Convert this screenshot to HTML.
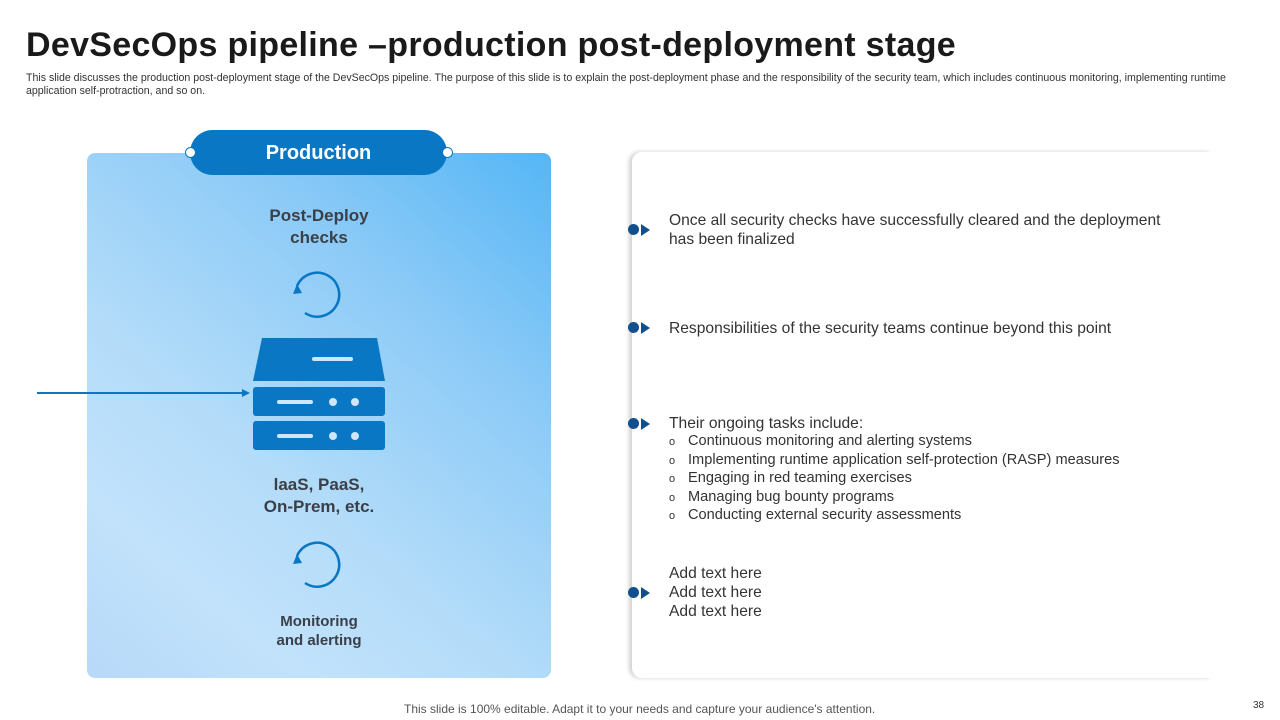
<!DOCTYPE html>
<html><head><meta charset="utf-8"><style>
body{margin:0;width:1280px;height:720px;background:#fff;position:relative;overflow:hidden;font-family:"Liberation Sans",sans-serif;}
.a{position:absolute}
h1{position:absolute;left:26px;top:26px;margin:0;font-size:34px;font-weight:bold;color:#1a1a1a;letter-spacing:0.3px}
.sub{left:26px;top:72px;font-size:10.6px;color:#333;line-height:12.5px;white-space:nowrap}
.panel{left:87px;top:153px;width:464px;height:525px;border-radius:8px;background:linear-gradient(220deg,#55b6f5 0%,#8dcbf7 30%,#b3dcf9 60%,#c2e2fb 80%,#b7d9f8 100%)}
.pill{left:190px;top:130px;width:257px;height:45px;border-radius:23px;background:#0a77c4;color:#fff;font-weight:bold;font-size:20px;text-align:center;line-height:46px}
.dot{width:9px;height:9px;border-radius:50%;background:#fff;border:1px solid #0a77c4}
.lbl{color:#3a3f48;font-weight:bold;text-align:center;width:200px;left:219px}
.card{left:632px;top:152px;width:580px;height:526px;border-radius:10px 0 0 10px;box-shadow:-3px 0 4px rgba(0,0,0,0.18);background:#fff}
.t{left:669px;font-size:15.6px;color:#333;line-height:19px}
.b{left:628px;width:11px;height:11px;border-radius:50%;background:#124f8c}
.tri{width:0;height:0;border-left:9px solid #124f8c;border-top:6px solid transparent;border-bottom:6px solid transparent}
ul{margin:0;padding:0;list-style:none}
li{font-size:14.6px;line-height:17.6px}
li:before{content:"o";display:inline-block;width:19px;font-size:11px}
</style></head><body>
<h1>DevSecOps pipeline –production post-deployment stage</h1>
<div class="a sub">This slide discusses the production post-deployment stage of the DevSecOps pipeline. The purpose of this slide is to explain the post-deployment phase and the responsibility of the security team, which includes continuous monitoring, implementing runtime<br>application self-protraction, and so on.</div>
<div class="a panel"></div>
<div class="a pill">Production</div>
<div class="a dot" style="left:185px;top:147px"></div>
<div class="a dot" style="left:442px;top:147px"></div>
<div class="a lbl" style="top:205px;font-size:17px;line-height:22px">Post-Deploy<br>checks</div>
<div class="a lbl" style="top:474px;font-size:17px;line-height:22px">laaS, PaaS,<br>On-Prem, etc.</div>
<div class="a lbl" style="top:612px;font-size:15px;line-height:19px">Monitoring<br>and alerting</div>
<svg class="a" style="left:0;top:0" width="600" height="720">
<g fill="none" stroke="#0a77c4" stroke-width="2.5">
<path d="M297 286 A22 22 0 1 1 305 313"/><path d="M297 556 A22 22 0 1 1 305 583"/></g>
<path d="M293 294 L297 284 L302 293Z" fill="#0a77c4"/><path d="M293 564 L297 554 L302 563Z" fill="#0a77c4"/>
<path d="M262 338 L377 338 L385 381 L253 381Z" fill="#0a77c4"/>
<rect x="312" y="357" width="41" height="4" rx="2" fill="#cfe6f8"/>
<rect x="253" y="387" width="132" height="29" rx="3" fill="#0a77c4"/>
<rect x="253" y="421" width="132" height="29" rx="3" fill="#0a77c4"/>
<g fill="#cfe6f8"><rect x="277" y="400" width="36" height="4" rx="2"/><rect x="277" y="434" width="36" height="4" rx="2"/>
<circle cx="333" cy="402" r="4"/><circle cx="355" cy="402" r="4"/><circle cx="333" cy="436" r="4"/><circle cx="355" cy="436" r="4"/></g>
<line x1="37" y1="393" x2="243" y2="393" stroke="#0a77c4" stroke-width="2"/>
<path d="M242 389 L250 393 L242 397Z" fill="#0a77c4"/>
</svg>
<div class="a card"></div>
<div class="a b" style="top:224px"></div><div class="a tri" style="left:641px;top:224px"></div>
<div class="a b" style="top:322px"></div><div class="a tri" style="left:641px;top:322px"></div>
<div class="a b" style="top:418px"></div><div class="a tri" style="left:641px;top:418px"></div>
<div class="a b" style="top:587px"></div><div class="a tri" style="left:641px;top:587px"></div>
<div class="a t" style="top:211px">Once all security checks have successfully cleared and the deployment<br>has been finalized</div>
<div class="a t" style="top:319px">Responsibilities of the security teams continue beyond this point</div>
<div class="a t" style="top:414px">Their ongoing tasks include:
<ul><li>Continuous monitoring and alerting systems</li><li>Implementing runtime application self-protection (RASP) measures</li><li>Engaging in red teaming exercises</li><li>Managing bug bounty programs</li><li>Conducting external security assessments</li></ul></div>
<div class="a t" style="top:564px">Add text here<br>Add text here<br>Add text here</div>
<div class="a" style="left:404px;top:702px;font-size:12px;color:#555">This slide is 100% editable. Adapt it to your needs and capture your audience's attention.</div>
<div class="a" style="left:1253px;top:700px;font-size:10px;color:#333">38</div>
</body></html>
